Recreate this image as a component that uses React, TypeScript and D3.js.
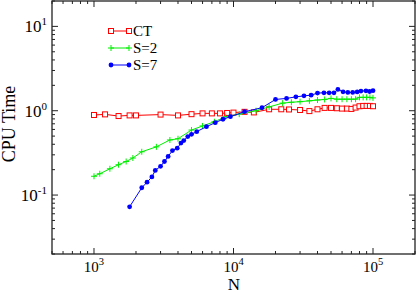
import { scaleLog, line } from 'd3';

const width = 416;
const height = 293;
const plot = { left: 52, right: 415, top: 1, bottom: 254 };

// CT
const ctN = [1000, 1200, 1500, 1800, 2000, 3000, 4000, 5000, 6000, 7000, 8000, 9000, 10000, 12000, 14000, 18000, 22000, 25000, 30000, 35000, 40000, 45000, 50000, 55000, 60000, 65000, 70000, 75000, 80000, 85000, 90000, 95000, 100000];
const ctT = [0.89, 0.905, 0.865, 0.88, 0.88, 0.9, 0.88, 0.91, 0.93, 0.93, 0.93, 0.94, 0.95, 0.97, 0.955, 1.04, 1.04, 1.035, 1.02, 0.99, 1.04, 1.08, 1.08, 1.07, 1.06, 1.06, 1.05, 1.09, 1.13, 1.14, 1.14, 1.14, 1.13];

// S=2
const s2N = [1000, 1100, 1300, 1500, 1700, 1900, 2200, 2800, 3500, 4000, 5000, 6000, 7300, 8800, 11000, 14500, 18000, 22500, 26000, 30000, 35000, 40000, 45000, 50000, 55000, 60000, 65000, 70000, 75000, 80000, 85000, 90000, 95000, 100000];
const s2T = [0.167, 0.179, 0.205, 0.229, 0.25, 0.275, 0.326, 0.373, 0.45, 0.465, 0.59, 0.66, 0.74, 0.85, 0.91, 1.0, 1.11, 1.23, 1.26, 1.28, 1.31, 1.34, 1.36, 1.4, 1.37, 1.37, 1.37, 1.37, 1.37, 1.44, 1.44, 1.44, 1.44, 1.42];

// S=7
const s7N = [1800, 2200, 2400, 2600, 2750, 3000, 3200, 3400, 3650, 3950, 4200, 4400, 4700, 5000, 5450, 6400, 7400, 8400, 9500, 12000, 16000, 20000, 24000, 28000, 32000, 36000, 40000, 44500, 48500, 52500, 56000, 61000, 66000, 71500, 77000, 82000, 89000, 94500, 100000];
const s7T = [0.0726, 0.122, 0.142, 0.164, 0.196, 0.219, 0.25, 0.287, 0.337, 0.36, 0.413, 0.443, 0.493, 0.525, 0.565, 0.647, 0.722, 0.792, 0.85, 0.973, 1.085, 1.36, 1.4, 1.46, 1.5, 1.53, 1.62, 1.63, 1.63, 1.63, 1.79, 1.675, 1.65, 1.65, 1.67, 1.71, 1.72, 1.69, 1.73];

const seriesNames = ['CT', 'S=2', 'S=7'];
const seriesColors = ['#ff0000', '#00ee00', '#0000ff'];

const font = '"Liberation Serif", "Times New Roman", serif';

const Marker = ({ kind, x, y, color }: { kind: number; x: number; y: number; color: string }) => {
	if (kind === 0)
		return <rect x={x - 2.5} y={y - 2.5} width={5} height={5} fill="white" stroke={color} strokeWidth={1} />;
	if (kind === 1)
		return (
			<path d={`M${x - 3},${y}H${x + 3}M${x},${y - 3}V${y + 3}`} stroke={color} strokeWidth={1} />
		);
	return <circle cx={x} cy={y} r={2.4} fill={color} />;
};

const App = () => {
	const xScale = scaleLog().domain([500, 2e5]).range([plot.left, plot.right]);
	const yScale = scaleLog().domain([0.02, 20]).range([plot.bottom, plot.top]);

	const series = [
		{ n: ctN, t: ctT },
		{ n: s2N, t: s2T },
		{ n: s7N, t: s7T },
	];

	const isMajor = (v: number) => Math.abs(Math.log10(v) - Math.round(Math.log10(v))) < 1e-9;
	const xTicks = xScale.ticks();
	const yTicks = yScale.ticks();

	const path = line<[number, number]>()
		.x(d => xScale(d[0]))
		.y(d => yScale(d[1]));

	const legendY = [31, 48, 65];

	return (
		<svg width={width} height={height} style={{ position: 'absolute', left: 0, top: 0, fontFamily: font }}>
			<rect width={width} height={height} fill="white" />
			{/* ticks */}
			<g stroke="#222" strokeWidth={1}>
				{xTicks.map(v => {
					const len = isMajor(v) ? 6 : 3;
					const x = xScale(v);
					return (
						<g key={'x' + v}>
							<line x1={x} x2={x} y1={plot.bottom} y2={plot.bottom - len} />
							<line x1={x} x2={x} y1={plot.top} y2={plot.top + len} />
						</g>
					);
				})}
				{yTicks.map(v => {
					const len = isMajor(v) ? 6 : 3;
					const y = yScale(v);
					return (
						<g key={'y' + v}>
							<line x1={plot.left} x2={plot.left + len} y1={y} y2={y} />
							<line x1={plot.right} x2={plot.right - len} y1={y} y2={y} />
						</g>
					);
				})}
			</g>
			<rect
				x={plot.left}
				y={plot.top}
				width={plot.right - plot.left}
				height={plot.bottom - plot.top}
				fill="none"
				stroke="#222"
				strokeWidth={1.3}
			/>
			{/* tick labels */}
			{xTicks.filter(isMajor).map(v => (
				<text key={'xl' + v} x={xScale(v)} y={272} textAnchor="middle" fontSize={15} fill="black">
					<tspan>10</tspan>
					<tspan dy={-7} fontSize={10.5}>{Math.round(Math.log10(v))}</tspan>
				</text>
			))}
			{yTicks.filter(isMajor).map(v => (
				<text key={'yl' + v} x={47} y={yScale(v) + 6} textAnchor="end" fontSize={17} fill="black">
					<tspan>10</tspan>
					<tspan dy={-7} fontSize={11}>{Math.round(Math.log10(v))}</tspan>
				</text>
			))}
			{/* axis titles */}
			<text x={234} y={289.5} textAnchor="middle" fontSize={17} fill="black">N</text>
			<text transform={`translate(15,124) rotate(-90)`} textAnchor="middle" fontSize={18} fill="black">
				CPU Time
			</text>
			{/* series */}
			{series.map((s, i) => {
				const pts = s.n.map((n, j) => [n, s.t[j]] as [number, number]);
				return (
					<g key={seriesNames[i]}>
						<path d={path(pts) || ''} fill="none" stroke={seriesColors[i]} strokeWidth={1} />
						{pts.map((p, j) => (
							<Marker key={j} kind={i} x={xScale(p[0])} y={yScale(p[1])} color={seriesColors[i]} />
						))}
					</g>
				);
			})}
			{/* legend */}
			{seriesNames.map((name, i) => (
				<g key={'lg' + name}>
					<line x1={111} x2={129} y1={legendY[i]} y2={legendY[i]} stroke={seriesColors[i]} strokeWidth={1} />
					<Marker kind={i} x={111} y={legendY[i]} color={seriesColors[i]} />
					<Marker kind={i} x={129} y={legendY[i]} color={seriesColors[i]} />
					<text x={133} y={legendY[i] + 5} fontSize={15} fill="black">
						{name}
					</text>
				</g>
			))}
		</svg>
	);
};

export default App;
